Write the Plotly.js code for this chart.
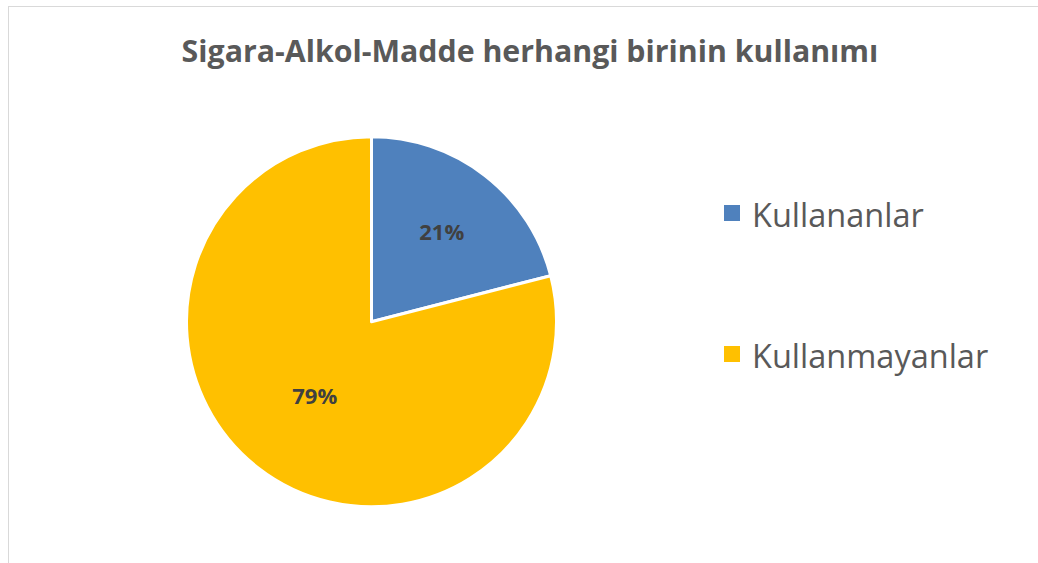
<!DOCTYPE html>
<html>
<head>
<meta charset="utf-8">
<script src="https://cdn.plot.ly/plotly-3.0.1.min.js"></script>
<style>
  html, body { margin: 0; padding: 0; background: #fff; overflow: hidden; }
  #chart { position: absolute; left: 0; top: 0; width: 1038px; height: 563px; }
  #frame { position: absolute; left: 8px; top: 6px; width: 1200px; height: 700px;
           border-top: 1px solid #d9d9d9; border-left: 1px solid #d9d9d9; pointer-events: none; }
</style>
</head>
<body>
<div id="chart"></div>
<div id="frame"></div>
<script>
const chartTitle = 'Sigara-Alkol-Madde herhangi birinin kullanımı';
const labels = ['Kullananlar', 'Kullanmayanlar'];
const values = [21, 79];
const colors = ['#4F81BD', '#FFC000'];

const W = 1038, H = 563;
const cx = 371.5, cy = 321.7, R = 185;

const legendLabels = labels.map(l => '<br><span style="font-size:32.5px">' + l + '</span><br>');

const trace = {
  type: 'pie',
  labels: legendLabels,
  values: values,
  sort: false,
  direction: 'clockwise',
  rotation: 0,
  marker: { colors: colors, line: { color: '#ffffff', width: 3 } },
  textinfo: 'percent',
  texttemplate: '%{percent:.0%}',
  textposition: 'inside',
  insidetextorientation: 'horizontal',
  textfont: { family: 'Open Sans', size: 22, color: '#404040', weight: 700 },
  hoverinfo: 'none',
  domain: { x: [(cx - R) / W, (cx + R) / W], y: [(H - cy - R) / H, (H - cy + R) / H] }
};

const layout = {
  width: W, height: H,
  margin: { l: 0, r: 0, t: 0, b: 0 },
  paper_bgcolor: '#ffffff',
  font: { family: 'Open Sans', color: '#595959' },
  title: {
    text: chartTitle,
    font: { family: 'Open Sans', size: 30.3, color: '#595959', weight: 700 },
    x: 530 / W, xanchor: 'center',
    y: (H - 51) / H, yanchor: 'middle'
  },
  showlegend: true,
  legend: {
    x: 712 / W, xanchor: 'left',
    y: (H - 284) / H, yanchor: 'middle',
    font: { family: 'Open Sans', size: 35.4, color: '#595959' },
    bgcolor: 'rgba(0,0,0,0)',
    traceorder: 'normal'
  }
};

Plotly.newPlot('chart', [trace], layout, { displayModeBar: false, staticPlot: true }).then(() => {
  document.querySelectorAll('#chart .legendpoints path').forEach(p => {
    p.setAttribute('d', 'M8,8H-8V-8H8Z');
    p.style.strokeWidth = '0';
  });
});
</script>
</body>
</html>
